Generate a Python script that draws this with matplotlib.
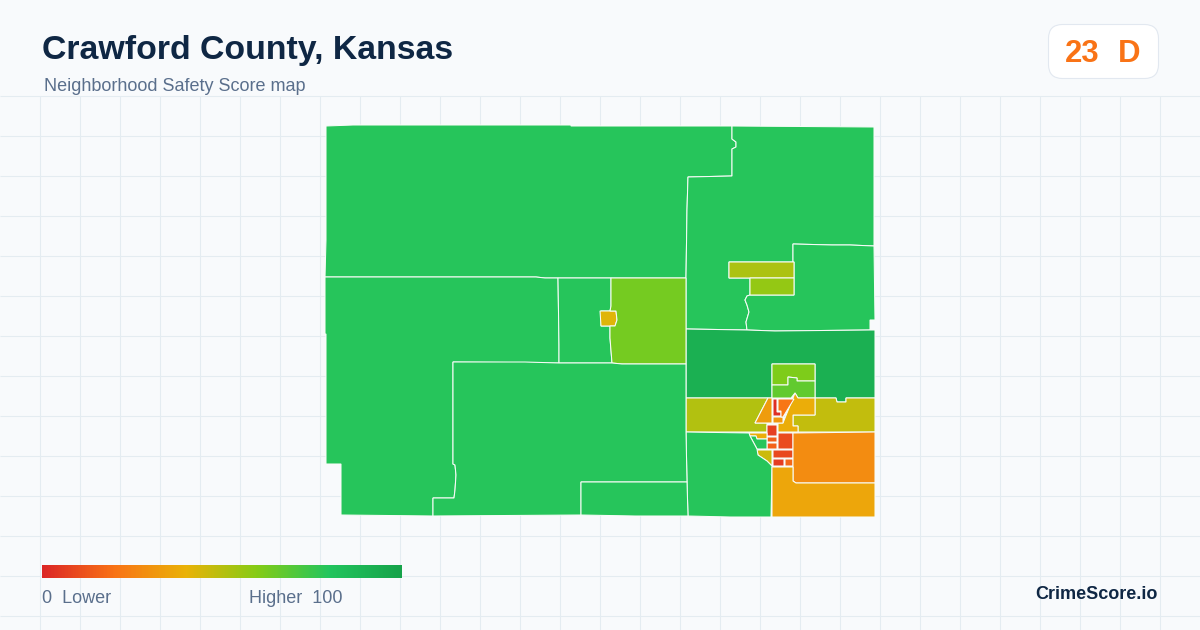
import numpy as np
import matplotlib
matplotlib.use("Agg")
import matplotlib.pyplot as plt
from matplotlib.colors import LinearSegmentedColormap
from matplotlib.patches import Polygon, FancyBboxPatch

plt.rcParams['font.family'] = ['Liberation Sans', 'DejaVu Sans']

TITLE = "Crawford County, Kansas"
SUBTITLE = "Neighborhood Safety Score map"
BADGE_SCORE = "23"
BADGE_GRADE = "D"
BRAND = "CrimeScore.io"
LEGEND_LOW = "0  Lower"
LEGEND_HIGH = "Higher  100"

NAVY = "#0f2744"
SLATE = "#5a6f8c"
ORANGE = "#f97316"
BG = "#f8fafc"
GRID = "#e4ecf1"

GRADIENT = ["#dc2626", "#f97316", "#eab308", "#84cc16", "#22c55e", "#16a34a"]

northwest = [(326,126),(353,125),(571,125),(571,126),(732,126),(732,139),(736,142),(736,147),(732,149),(732,176),(688,177),(687,210),(686,278),(545,278),(536,277),(325,277),(326,240)]
northeast = [(732,126),(874,127),(874,246),(850,245),(832,245),(793,244),(793,262),(729,262),(729,278),(750,278),(750,295),(747,296),(745,300),(747,305),(749,312),(746,322),(747,330),(686,329),(686,278),(687,210),(688,177),(732,176),(732,149),(736,147),(736,142),(732,139)]
east_inner = [(793,244),(832,245),(850,245),(874,246),(875,320),(870,320),(870,330),(775,331),(747,330),(746,322),(749,312),(747,305),(745,300),(747,296),(750,295),(794,295),(794,262),(793,262)]
strip_a = [(729,262),(794,262),(794,278),(729,278)]
strip_b = [(750,278),(794,278),(794,295),(750,295)]
dark_band = [(686,329),(747,330),(775,331),(870,330),(875,330),(875,398),(846,398),(846,402),(837,402),(836,398),(815,398),(815,364),(772,364),(772,398),(686,398)]
lime_north = [(772,364),(815,364),(815,381),(797,381),(797,378),(788,377),(788,385),(772,385)]
lime_south = [(772,385),(788,385),(788,377),(797,378),(797,381),(815,381),(815,398),(798,398),(795,393),(791,398),(772,398)]
olive_west = [(686,398),(768,398),(755,423),(767,423),(767,432),(686,432)]
olive_east = [(815,398),(836,398),(837,402),(846,402),(846,398),(875,398),(875,432),(798,432),(798,426),(793,426),(793,415),(815,415)]
amber_mid = [(795,393),(798,398),(815,398),(815,415),(793,415),(793,426),(798,426),(798,432),(778,432),(778,423),(783,423)]
wedge = [(768,398),(772,398),(772,423),(755,423)]
small_a = [(773,417),(783,417),(783,423),(773,423)]
red_l = [(773,399),(777,399),(777,412),(781,412),(781,416),(773,416)]
orange_n = [(778,399),(794,399),(783,417),(781,417),(781,411),(778,411)]
red_rect = [(767,425),(777,425),(777,436),(767,436)]
small_b = [(767,437),(777,437),(777,442),(767,442)]
small_c = [(767,443),(777,443),(777,449),(767,449)]
big_red = [(778,433),(793,433),(793,449),(778,449)]
mid_red = [(773,450),(793,450),(793,458),(773,458)]
low_red = [(773,459),(784,459),(784,466),(773,466)]
low_orange = [(785,459),(793,459),(793,466),(785,466)]
amber_w = [(749,433),(767,433),(767,439),(757,439),(756,436),(750,436)]
pocket = [(750,436),(756,436),(757,439),(767,439),(767,449),(757,449)]
olive_s = [(757,450),(772,450),(772,466),(767,461),(758,455)]
southwest_e = [(686,432),(749,433),(750,436),(757,449),(758,455),(767,461),(772,466),(771,517),(730,517),(688,516),(687,482)]
orange_big = [(793,433),(875,432),(875,483),(796,483),(793,481)]
amber_s = [(772,467),(793,467),(793,481),(796,483),(875,483),(875,517),(772,517)]
west = [(325,277),(536,277),(545,278),(558,278),(559,345),(559,363),(453,362),(453,464),(455,465),(456,475),(455,490),(454,498),(433,498),(433,516),(341,515),(341,464),(326,464),(326,334),(325,334)]
middle = [(558,278),(611,278),(611,306),(610,311),(601,311),(601,326),(610,326),(610,338),(612,363),(559,363),(559,345)]
town = [(600,311),(616,311),(617,320),(615,326),(601,326)]
yellow_green = [(611,278),(686,278),(686,364),(622,364),(612,363),(610,338),(610,326),(615,326),(617,320),(616,311),(610,311),(611,306)]
south = [(453,362),(525,362),(559,363),(612,363),(622,364),(686,364),(686,398),(686,432),(687,482),(581,482),(581,515),(433,516),(433,498),(454,498),(455,490),(456,475),(455,465),(453,464)]
south_small = [(581,482),(687,482),(688,516),(635,516),(581,515)]

TRACTS = [northwest, northeast, east_inner, strip_a, strip_b, dark_band, lime_north, lime_south,
          olive_west, olive_east, amber_mid, wedge, small_a, red_l, orange_n, red_rect, small_b,
          small_c, big_red, mid_red, low_red, low_orange, amber_w, pocket, olive_s, southwest_e,
          orange_big, amber_s, west, middle, town, yellow_green, south, south_small]
SCORES = [79, 79, 79, 52, 57, 92, 61, 67,
          51, 48, 38, 33, 31, 2, 21, 7, 15,
          16, 10, 9, 6, 17, 38, 79, 46, 79,
          28, 36, 79, 79, 42, 63, 79, 79]

GRID_X = list(range(40, 1200, 40))
GRID_Y = list(range(96, 630, 40))

cmap = LinearSegmentedColormap.from_list("score", GRADIENT)

fig = plt.figure(figsize=(12, 6.3), dpi=100, facecolor=BG)
ax = fig.add_axes([0, 0, 1, 1])
ax.set_xlim(0, 1200)
ax.set_ylim(630, 0)
ax.axis("off")

ax.vlines(GRID_X, 96, 630, color=GRID, lw=0.75, zorder=1)
ax.hlines(GRID_Y, 0, 1200, color=GRID, lw=0.75, zorder=1)

for poly, score in zip(TRACTS, SCORES):
    ax.add_patch(Polygon(poly, closed=True, facecolor=cmap(score / 100),
                         edgecolor="#f8fcf8", lw=0.75, joinstyle="miter", snap=False, zorder=2))

ax.text(42, 59, TITLE, fontsize=24.4, fontweight="bold", color=NAVY, va="baseline", ha="left", zorder=5)
ax.text(44, 91, SUBTITLE, fontsize=12.95, color=SLATE, va="baseline", ha="left", zorder=5)

ax.add_patch(FancyBboxPatch((1048.5, 24.5), 110, 54, boxstyle="round,pad=0,rounding_size=14",
                            facecolor="white", edgecolor="#e2e8f0", lw=0.8, zorder=4))
ax.text(1065, 62, BADGE_SCORE, fontsize=22.4, fontweight="bold", color=ORANGE, va="baseline", ha="left", zorder=5)
ax.text(1118, 62, BADGE_GRADE, fontsize=22.4, fontweight="bold", color=ORANGE, va="baseline", ha="left", zorder=5)

ramp = np.linspace(0, 1, 360).reshape(1, -1)
ax.imshow(ramp, cmap=cmap, extent=(42, 402, 578, 565), aspect="auto", zorder=3, interpolation="bilinear")
ax.set_xlim(0, 1200)
ax.set_ylim(630, 0)

ax.text(42, 603, LEGEND_LOW, fontsize=12.95, color=SLATE, va="baseline", ha="left", zorder=5)
ax.text(249, 603, LEGEND_HIGH, fontsize=12.95, color=SLATE, va="baseline", ha="left", zorder=5)
ax.text(1158, 599, BRAND, fontsize=13, fontweight="bold", color=NAVY, va="baseline", ha="right", zorder=5)

fig.savefig("out.png", dpi=100, facecolor=BG)
